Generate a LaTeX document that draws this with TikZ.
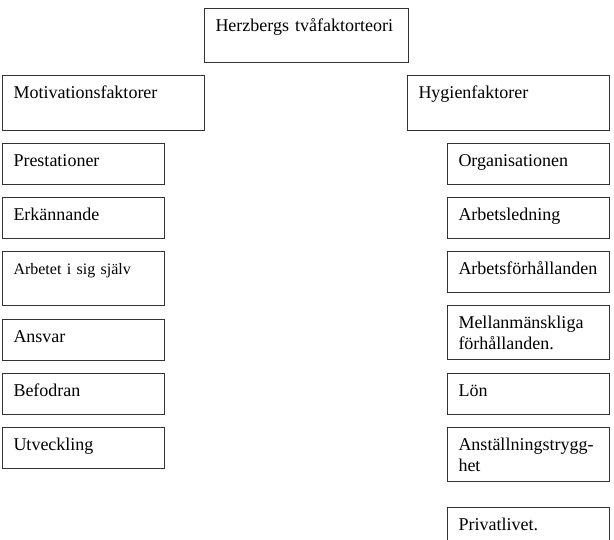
\documentclass[tikz,border=0pt]{standalone}
\usepackage{fontspec}
\setmainfont{Liberation Serif}
\usetikzlibrary{positioning}

\begin{document}
\begin{tikzpicture}[x=1pt, y=-1pt,
    box/.style={draw=black!80, line width=1pt, anchor=north west, align=left,
      font=\fontsize{18}{21}\selectfont, inner xsep=11pt, inner ysep=0pt,
      text height=23pt, text depth=18pt},
    mainbox/.style={box, text width=182pt, text depth=31pt},
    groupbox/.style={box, text width=180pt, text depth=32pt},
    factorbox/.style={box, text width=140pt}
]
\useasboundingbox (0,0) rectangle (614,539);

% Rubrik
\node[mainbox] (teori) at (204,8) {Herzbergs tvåfaktorteori};

% Grupperna
\node[groupbox] (motiv)  at (2,75)   {Motivationsfaktorer};
\node[groupbox] (hygien) at (407,75) {Hygienfaktorer};

% Motivationsfaktorer (vänster)
\node[factorbox] (prest)  at (2,143) {Prestationer};
\node[factorbox] (erk)    at (2,197) {Erkännande};
\node[factorbox, text depth=31pt, font=\fontsize{16}{19}\selectfont] (arbete) at (2,251) {Arbetet i sig själv};
\node[factorbox] (ansvar) at (2,319) {Ansvar};
\node[factorbox] (befo)   at (2,373) {Befodran};
\node[factorbox] (utv)    at (2,427) {Utveckling};

% Hygienfaktorer (höger)
\node[factorbox] (org)     at (447,143) {Organisationen};
\node[factorbox] (ledning) at (447,197) {Arbetsledning};
\node[factorbox] (forh)    at (447,251) {Arbetsförhållanden};
\node[factorbox, text depth=31pt] (mellan) at (447,305) {Mellanmänskliga\\förhållanden.};
\node[factorbox] (lon)     at (447,373) {Lön};
\node[factorbox, text depth=31pt] (anst) at (447,427) {Anställningstrygg-\\het};
\node[factorbox] (privat)  at (447,507) {Privatlivet.};
\end{tikzpicture}
\end{document}
